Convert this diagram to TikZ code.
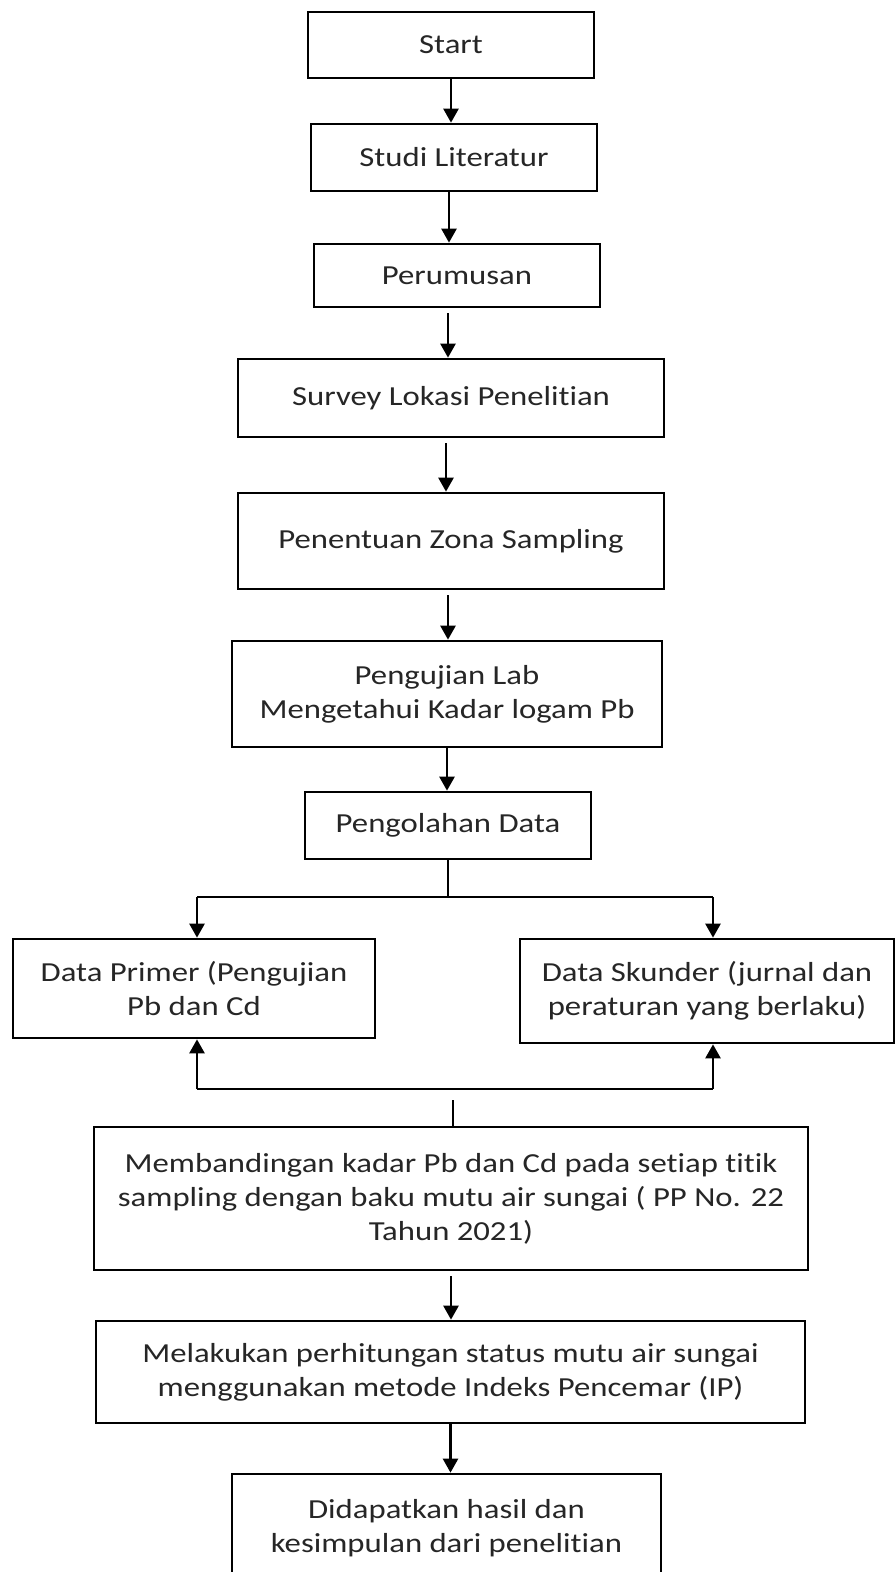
\documentclass[tikz,border=0pt]{standalone}
\usepackage{fontspec}
\setmainfont{Carlito}[FakeStretch=1.19, Ligatures={NoCommon}]
\usetikzlibrary{arrows.meta,calc}
\tikzset{
  box/.style={draw=black, line width=2.7pt, fill=white, align=center, inner sep=0pt,
    font=\fontsize{27.5}{34}\selectfont, text=black!85},
  link/.style={draw=black, line width=2.5pt},
  arr/.style={link, -{Triangle[width=15pt,length=14pt]}},
}
\begin{document}
\begin{tikzpicture}[x=1pt,y=-1pt]
\useasboundingbox (0,0) rectangle (896,1572);
\clip (0,0) rectangle (896,1572);
\fill[white] (0,0) rectangle (896,1572);

\node[box, minimum width=286pt, minimum height=66pt] (start) at (451,45) {Start};
\node[box, minimum width=286pt, minimum height=67pt] (studi) at (454,157.5) {Studi Literatur};
\node[box, minimum width=286pt, minimum height=63pt] (perum) at (457,275.5) {Perumusan};
\node[box, minimum width=426pt, minimum height=78pt] (survey) at (451,398) {Survey Lokasi Penelitian};
\node[box, minimum width=426pt, minimum height=96pt] (zona) at (451,541) {Penentuan Zona Sampling};
\node[box, minimum width=430pt, minimum height=106pt] (lab) at (447,694) {Pengujian Lab\\Mengetahui Kadar logam Pb};
\node[box, minimum width=286pt, minimum height=67pt] (olah) at (448,825.5) {Pengolahan Data};
\node[box, minimum width=362pt, minimum height=99pt] (primer) at (194,988.5) {Data Primer (Pengujian\\Pb dan Cd};
\node[box, minimum width=374pt, minimum height=104pt] (skunder) at (707,991) {Data Skunder (jurnal dan\\peraturan yang berlaku)};
\node[box, minimum width=714pt, minimum height=143pt] (banding) at (451,1198.5) {Membandingan kadar Pb dan Cd pada setiap titik\\sampling dengan baku mutu air sungai ( PP No. 22\\Tahun 2021)};
\node[box, minimum width=709pt, minimum height=102pt] (hitung) at (450.5,1372) {Melakukan perhitungan status mutu air sungai\\menggunakan metode Indeks Pencemar (IP)};
\node[box, minimum width=429pt, minimum height=108pt] (hasil) at (446.5,1528) {Didapatkan hasil dan\\kesimpulan dari penelitian};

\draw[arr] (start.south) -- (start.south |- studi.north);
\draw[arr] ([xshift=-5pt]studi.south) -- ([xshift=-5pt]studi.south |- perum.north);
\draw[arr, shorten <=5pt] ([xshift=-9pt]perum.south) -- ([xshift=-9pt]perum.south |- survey.north);
\draw[arr, shorten <=5pt] ([xshift=-5pt]survey.south) -- ([xshift=-5pt]survey.south |- zona.north);
\draw[arr, shorten <=5pt] ([xshift=-3pt]zona.south) -- ([xshift=-3pt]zona.south |- lab.north);
\draw[arr] (lab.south) -- (lab.south |- olah.north);

\coordinate (jl) at (197,897);
\coordinate (jr) at (713,897);
\draw[link] (olah.south) -- (olah.south |- jl);
\draw[link] (jl) -- (jr);
\draw[arr] (jl) -- (jl |- primer.north);
\draw[arr] (jr) -- (jr |- skunder.north);

\coordinate (bl) at (197,1089);
\coordinate (br) at (713,1089);
\draw[arr] (bl) -- (bl |- primer.south);
\draw[arr] (br) -- (br |- skunder.south);
\draw[link] (bl) -- (br);
\coordinate (gt) at (453,1100);
\draw[link] (gt) -- (gt |- banding.north);

\draw[arr, shorten <=5pt] (banding.south) -- (banding.south |- hitung.north);
\draw[arr] (hitung.south) -- (hitung.south |- hasil.north);
\end{tikzpicture}
\end{document}
